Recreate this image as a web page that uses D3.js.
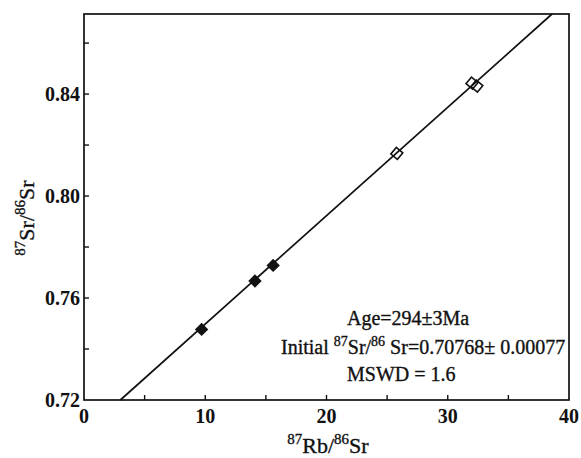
<!DOCTYPE html>
<html>
<head>
  <meta charset="UTF-8">
  <style>
    body { margin: 0; background: #fff; }
    svg { display: block; font-family: "Liberation Serif", "Times New Roman", serif; }
    .tick-label { font-size: 20px; font-weight: bold; fill: #111; }
    .note { font-size: 20px; fill: #111; stroke: #111; stroke-width: 0.35px; }
    .title { font-size: 22px; fill: #111; stroke: #111; stroke-width: 0.35px; }
  </style>
</head>
<body>
<svg></svg>
<script src="https://d3js.org/d3.v7.min.js"></script>
<script>

// data
let filledX = [9.7, 14.1, 15.6];
let filledY = [0.7477, 0.7667, 0.7728];
let openX = [25.8, 32.0, 32.4];
let openY = [0.8167, 0.8443, 0.8431];
// isochron end points
let lineX = [3.0, 38.6];
let lineY = [0.72, 0.8714];

let xLabels = [0, 10, 20, 30, 40];
let yLabels = [0.72, 0.76, 0.80, 0.84];
let xMinor = [5, 15, 25, 35];
let yMinor = [0.74, 0.78, 0.82, 0.86];

let width = 581, height = 458;
let margin = {left: 84, right: 12, top: 14, bottom: 58};

let svg = d3.select("svg")
    .attr("width", width)
    .attr("height", height);

let x = d3.scaleLinear()
    .domain([0, 40])
    .range([margin.left, width - margin.right]);

let y = d3.scaleLinear()
    .domain([0.72, 0.8714])
    .range([height - margin.bottom, margin.top]);

// frame
svg.append("rect")
    .attr("x", x(0))
    .attr("y", y.range()[1])
    .attr("width", x(40) - x(0))
    .attr("height", y.range()[0] - y.range()[1])
    .attr("fill", "none")
    .attr("stroke", "#111")
    .attr("stroke-width", 1.7);

// ticks point inward
let xTicks = xLabels.concat(xMinor).filter(d => d > 0 && d < 40);
svg.append("g").selectAll("line")
    .data(xTicks)
    .enter().append("line")
    .attr("x1", d => x(d)).attr("x2", d => x(d))
    .attr("y1", y(0.72)).attr("y2", y(0.72) - 5)
    .attr("stroke", "#111").attr("stroke-width", 1.4);

let yTicks = yLabels.concat(yMinor).filter(d => d > 0.72);
svg.append("g").selectAll("line")
    .data(yTicks)
    .enter().append("line")
    .attr("x1", x(0)).attr("x2", x(0) + 5)
    .attr("y1", d => y(d)).attr("y2", d => y(d))
    .attr("stroke", "#111").attr("stroke-width", 1.4);

svg.append("g").selectAll("text")
    .data(xLabels)
    .enter().append("text")
    .attr("class", "tick-label")
    .attr("x", d => x(d))
    .attr("y", y(0.72) + 23)
    .attr("text-anchor", "middle")
    .text(d => d);

svg.append("g").selectAll("text")
    .data(yLabels)
    .enter().append("text")
    .attr("class", "tick-label")
    .attr("x", x(0) - 4)
    .attr("y", d => y(d) + 7)
    .attr("text-anchor", "end")
    .text(d => d.toFixed(2));

// isochron
svg.append("path")
    .datum(d3.zip(lineX, lineY))
    .attr("d", d3.line().x(d => x(d[0])).y(d => y(d[1])))
    .attr("fill", "none")
    .attr("stroke", "#111")
    .attr("stroke-width", 1.7);

let diamond = d3.symbol().type(d3.symbolSquare).size(90);

svg.append("g").selectAll("path")
    .data(d3.zip(filledX, filledY))
    .enter().append("path")
    .attr("d", diamond)
    .attr("transform", d => `translate(${x(d[0])},${y(d[1])}) rotate(45)`)
    .attr("fill", "#111");

svg.append("g").selectAll("path")
    .data(d3.zip(openX, openY))
    .enter().append("path")
    .attr("d", d3.symbol().type(d3.symbolSquare).size(72))
    .attr("transform", d => `translate(${x(d[0])},${y(d[1])}) rotate(40)`)
    .attr("fill", "none")
    .attr("stroke", "#111")
    .attr("stroke-width", 1.6);

// axis titles
let xt = svg.append("text")
    .attr("class", "title")
    .attr("x", 328)
    .attr("y", 453)
    .attr("text-anchor", "middle");
xt.append("tspan").attr("font-size", 15).attr("dy", -9).text("87");
xt.append("tspan").attr("dy", 9).text("Rb/");
xt.append("tspan").attr("font-size", 15).attr("dy", -9).text("86");
xt.append("tspan").attr("dy", 9).text("Sr");

let yt = svg.append("text")
    .attr("class", "title")
    .attr("transform", "translate(34,218) rotate(-90)")
    .attr("text-anchor", "middle");
yt.append("tspan").attr("font-size", 15).attr("dy", -9).text("87");
yt.append("tspan").attr("dy", 9).text("Sr/");
yt.append("tspan").attr("font-size", 15).attr("dy", -9).text("86");
yt.append("tspan").attr("dy", 9).text("Sr");

// result box
svg.append("text").attr("class", "note")
    .attr("x", 347).attr("y", 325)
    .text("Age=294±3Ma");

let ini = svg.append("text").attr("class", "note")
    .attr("x", 281).attr("y", 354);
ini.append("tspan").text("Initial ");
ini.append("tspan").attr("font-size", 14).attr("dy", -8).text("87");
ini.append("tspan").attr("dy", 8).text("Sr/");
ini.append("tspan").attr("font-size", 14).attr("dy", -8).text("86");
ini.append("tspan").attr("dy", 8).text(" Sr=0.70768± 0.00077");

svg.append("text").attr("class", "note")
    .attr("x", 347).attr("y", 381)
    .text("MSWD = 1.6");

</script>
</body>
</html>
